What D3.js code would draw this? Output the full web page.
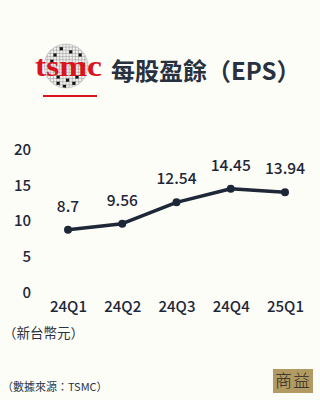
<!DOCTYPE html>
<html><head><meta charset="utf-8">
<script src="https://cdn.jsdelivr.net/npm/d3@7"></script>
<style>html,body{margin:0;padding:0;background:#fdfdf8;}svg{display:block;}</style>
</head><body>
<script>
const categories = ["24Q1","24Q2","24Q3","24Q4","25Q1"];
const eps = [8.7, 9.56, 12.54, 14.45, 13.94];
const epsLabels = ["8.7","9.56","12.54","14.45","13.94"];
const yTicks = [0,5,10,15,20];
const title = "每股盈餘（EPS）";
const unitText = "（新台幣元）";
const sourceText = "（數據來源：TSMC）";
const brandText = "商益";
// wafer logo decoration cells (col,row) in a 14x14 grid
const waferDots = [[5,1],[8,2],[3,3],[11,3],[2,5],[12,6],[4,10],[7,11],[10,10],[4,12],[6,13],[9,12]];

const W=320,H=400;
const font = "'Noto Sans CJK TC','Noto Sans',sans-serif";
const ink = "#1d2738";
const svg = d3.select("body").append("svg").attr("width",W).attr("height",H);
svg.append("rect").attr("width",W).attr("height",H).attr("fill","#fdfdf8");

// Logo
const logo = svg.append("g");
const cx=66, cy=66, r=22;
logo.append("clipPath").attr("id","wc").append("circle").attr("cx",cx).attr("cy",cy).attr("r",r);
const lg = logo.append("g").attr("clip-path","url(#wc)");
lg.append("circle").attr("cx",cx).attr("cy",cy).attr("r",r).attr("fill","#f2f2f0");
const step=44/14;
for(let i=0;i<=14;i++){
  lg.append("line").attr("x1",cx-r+i*step).attr("x2",cx-r+i*step).attr("y1",cy-r).attr("y2",cy+r).attr("stroke","#a0a0a0").attr("stroke-width",0.6);
  lg.append("line").attr("y1",cy-r+i*step).attr("y2",cy-r+i*step).attr("x1",cx-r).attr("x2",cx+r).attr("stroke","#a0a0a0").attr("stroke-width",0.6);
}
lg.selectAll("rect.d").data(waferDots).join("rect").attr("x",d=>cx-r+d[0]*step).attr("y",d=>cy-r+d[1]*step).attr("width",step).attr("height",step).attr("fill","#111");
logo.append("circle").attr("cx",cx).attr("cy",cy).attr("r",r).attr("fill","none").attr("stroke","#b5b5b5").attr("stroke-width",0.6);
logo.append("text").attr("x",35).attr("y",76).attr("textLength",67).attr("lengthAdjust","spacingAndGlyphs")
  .attr("font-family","'Liberation Serif','DejaVu Serif',serif").attr("font-weight","bold").attr("font-size",29)
  .attr("fill","#d9141e").text("tsmc");
logo.append("line").attr("x1",43).attr("x2",97).attr("y1",96).attr("y2",96).attr("stroke","#d9141e").attr("stroke-width",2);

svg.append("text").attr("x",111).attr("y",80).attr("font-family",font).attr("font-weight",700).attr("font-size",24)
  .attr("fill","#28313f").text(title);

// Chart
const x = d3.scalePoint().domain(categories).range([68,285]);
const y = d3.scaleLinear().domain([0,20]).range([292,149]);

const yAxis = d3.axisLeft(y).tickValues(yTicks).tickSize(0).tickPadding(0);
const gy = svg.append("g").attr("transform","translate(31,0)").call(yAxis);
gy.select(".domain").remove();
gy.selectAll("text").attr("font-family",font).attr("font-size",15).attr("font-weight",500).attr("fill",ink).attr("dy","0.35em");

const xAxis = d3.axisBottom(x).tickSize(0).tickPadding(0);
const gx = svg.append("g").attr("transform","translate(0,301)").call(xAxis);
gx.select(".domain").remove();
gx.selectAll("text").attr("font-family",font).attr("font-size",15).attr("font-weight",500).attr("fill",ink).attr("dy","0.71em");

const data = categories.map((c,i)=>({c,v:eps[i],l:epsLabels[i]}));
svg.append("path").datum(data).attr("fill","none").attr("stroke",ink).attr("stroke-width",3.5)
  .attr("stroke-linejoin","round").attr("d",d3.line().x(d=>x(d.c)).y(d=>y(d.v)));
svg.selectAll("circle.pt").data(data).join("circle").attr("class","pt").attr("cx",d=>x(d.c)).attr("cy",d=>y(d.v)).attr("r",4).attr("fill",ink);
svg.selectAll("text.vl").data(data).join("text").attr("class","vl").attr("x",d=>x(d.c)).attr("y",d=>y(d.v)-18)
  .attr("text-anchor","middle").attr("font-family",font).attr("font-size",15.5).attr("font-weight",500).attr("fill",ink).text(d=>d.l);

svg.append("text").attr("x",3).attr("y",338).attr("font-family",font).attr("font-size",13.5).attr("fill","#2a3240").text(unitText);
svg.append("text").attr("x",2).attr("y",391).attr("font-family",font).attr("font-size",11).attr("fill","#2a3240").text(sourceText);

svg.append("rect").attr("x",273).attr("y",369).attr("width",40).attr("height",24).attr("fill","#b29b63");
svg.append("text").attr("x",293).attr("y",387).attr("text-anchor","middle").attr("font-family",font).attr("font-weight",300).attr("font-size",17)
  .attr("letter-spacing",1).attr("fill","#2b2a25").text(brandText);
</script>
</body></html>
